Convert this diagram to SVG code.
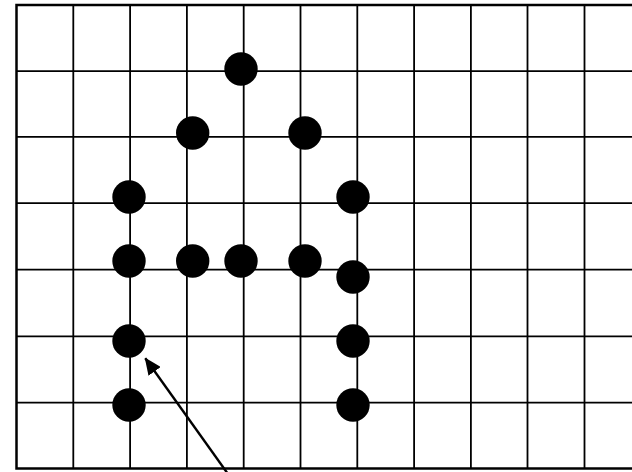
<svg xmlns="http://www.w3.org/2000/svg" width="632" height="472" viewBox="0 0 632 472">
<defs>
<style>
.g{stroke:#000;stroke-width:1.8;fill:none}
.b{stroke:#000;stroke-width:2.5;fill:none}
.d{fill:#000}
.a{stroke:#000;stroke-width:2.4;fill:none}
</style>
<marker id="ah" markerWidth="17" markerHeight="15" refX="16" refY="7.5" orient="auto" markerUnits="userSpaceOnUse">
<path d="M0,0 L17,7.5 L0,15 Z" fill="#000"/>
</marker>
</defs>
<rect width="632" height="472" fill="#fff"/>
<g id="grid">
<line class="g" x1="73.3" y1="5" x2="73.3" y2="468.5"/>
<line class="g" x1="130.1" y1="5" x2="130.1" y2="468.5"/>
<line class="g" x1="186.9" y1="5" x2="186.9" y2="468.5"/>
<line class="g" x1="243.7" y1="5" x2="243.7" y2="468.5"/>
<line class="g" x1="300.5" y1="5" x2="300.5" y2="468.5"/>
<line class="g" x1="357.3" y1="5" x2="357.3" y2="468.5"/>
<line class="g" x1="414.1" y1="5" x2="414.1" y2="468.5"/>
<line class="g" x1="470.9" y1="5" x2="470.9" y2="468.5"/>
<line class="g" x1="527.5" y1="5" x2="527.5" y2="468.5"/>
<line class="g" x1="584.5" y1="5" x2="584.5" y2="468.5"/>
<line class="g" x1="16.5" y1="71.1" x2="641" y2="71.1"/>
<line class="g" x1="16.5" y1="136.9" x2="641" y2="136.9"/>
<line class="g" x1="16.5" y1="203.1" x2="641" y2="203.1"/>
<line class="g" x1="16.5" y1="269.7" x2="641" y2="269.7"/>
<line class="g" x1="16.5" y1="336.3" x2="641" y2="336.3"/>
<line class="g" x1="16.5" y1="402.6" x2="641" y2="402.6"/>
<rect class="b" x="16.5" y="5" width="630" height="463.5"/>
</g>
<g id="dots">
<circle id="n1" class="d" cx="241" cy="69" r="16.7"/>
<circle id="n2" class="d" cx="192.7" cy="133" r="16.7"/>
<circle id="n3" class="d" cx="305" cy="133" r="16.7"/>
<circle id="n4" class="d" cx="129" cy="197" r="16.7"/>
<circle id="n5" class="d" cx="353" cy="197" r="16.7"/>
<circle id="n6" class="d" cx="129" cy="261" r="16.7"/>
<circle id="n7" class="d" cx="192.7" cy="261" r="16.7"/>
<circle id="n8" class="d" cx="241" cy="261" r="16.7"/>
<circle id="n9" class="d" cx="305" cy="261" r="16.7"/>
<circle id="n10" class="d" cx="353" cy="277" r="16.7"/>
<circle id="n11" class="d" cx="129" cy="341" r="16.7"/>
<circle id="n12" class="d" cx="353" cy="341" r="16.7"/>
<circle id="n13" class="d" cx="129" cy="405" r="16.7"/>
<circle id="n14" class="d" cx="353" cy="405" r="16.7"/>
</g>
<g id="connectors">
<line class="a" x1="228" y1="474" x2="145.3" y2="358.3" marker-end="url(#ah)"/>
</g>
</svg>
